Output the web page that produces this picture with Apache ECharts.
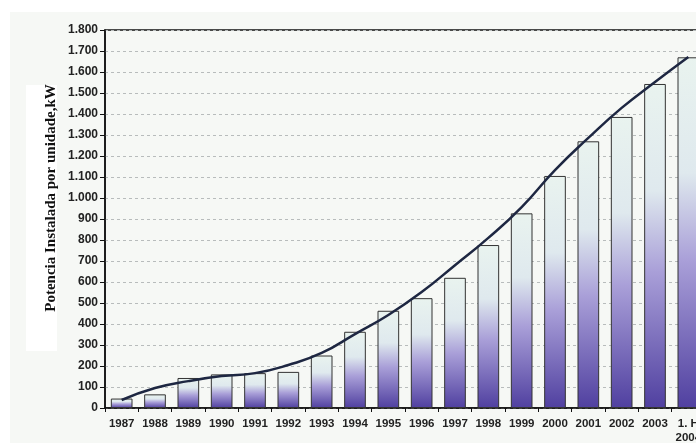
<!DOCTYPE html>
<html>
<head>
<meta charset="utf-8">
<script src="https://cdn.jsdelivr.net/npm/echarts@6/dist/echarts.min.js"></script>
<style>
  html, body { margin: 0; padding: 0; background: #ffffff; }
  #chart { width: 696px; height: 443px; }
</style>
</head>
<body>
<div id="chart"></div>
<script>
// Installed power per unit (kW), by year
const years = ['1987', '1988', '1989', '1990', '1991', '1992', '1993', '1994', '1995',
               '1996', '1997', '1998', '1999', '2000', '2001', '2002', '2003', '1. H\n2004'];
const powerKW = [45, 65, 143, 160, 166, 172, 250, 363, 463,
                 523, 620, 776, 927, 1105, 1270, 1386, 1543, 1670];
// Smoothed trend curve values at each year
const trendKW = [38, 95, 128, 152, 166, 205, 262, 352, 443,
                 552, 680, 810, 957, 1133, 1286, 1429, 1552, 1671];
const yTicks = { min: 0, max: 1800, step: 100 };

const fmt = v => {
  const s = String(v);
  return s.length > 3 ? s.slice(0, s.length - 3) + '.' + s.slice(-3) : s;
};

const chart = echarts.init(document.getElementById('chart'), null, { renderer: 'canvas' });
chart.setOption({
  backgroundColor: '#ffffff',
  animation: false,
  graphic: [
    { type: 'rect', shape: { x: 10, y: 12, width: 700, height: 440 }, style: { fill: '#f6f8f5' }, z: -10 },
    { type: 'rect', shape: { x: 26, y: 85, width: 31, height: 266 }, style: { fill: '#ffffff' }, z: -9 },
    {
      type: 'text', x: 51, y: 198, rotation: Math.PI / 2,
      style: {
        text: 'Potencia Instalada por unidade,kW',
        font: 'bold 15px "Liberation Serif", "Times New Roman", serif',
        fill: '#111', align: 'center', verticalAlign: 'middle'
      }
    }
  ],
  grid: {
    left: 105, top: 30, width: 600, bottom: 35,
    containLabel: false,
    outerBoundsMode: 'none',
    show: true, borderColor: '#111', borderWidth: 1.5, backgroundColor: 'transparent'
  },
  xAxis: {
    type: 'category',
    data: years,
    axisLine: { lineStyle: { color: '#111', width: 1.5 } },
    axisTick: { show: true, alignWithLabel: false, length: 4, lineStyle: { color: '#111' } },
    axisLabel: {
      color: '#222', fontSize: 11.5, fontWeight: 'bold',
      fontFamily: '"Liberation Sans", Arial, sans-serif',
      margin: 9, interval: 0, lineHeight: 14
    }
  },
  yAxis: {
    type: 'value',
    min: yTicks.min, max: yTicks.max, interval: yTicks.step,
    axisLine: { show: true, lineStyle: { color: '#111', width: 1.5 } },
    axisTick: { show: true, length: 5, lineStyle: { color: '#111' } },
    axisLabel: {
      color: '#222', fontSize: 12, fontWeight: 'bold',
      fontFamily: '"Liberation Sans", Arial, sans-serif',
      margin: 7, formatter: fmt
    },
    splitLine: { show: true, lineStyle: { color: '#b8bcbc', type: [3, 3], width: 1 } }
  },
  series: [
    {
      type: 'bar',
      data: powerKW,
      barCategoryGap: '35%',
      itemStyle: {
        borderColor: '#333',
        borderWidth: 1,
        color: new echarts.graphic.LinearGradient(0, 0, 0, 1, [
          { offset: 0, color: '#e9f3ef' },
          { offset: 0.33, color: '#dfe9ee' },
          { offset: 0.58, color: '#a99fd8' },
          { offset: 1, color: '#5040a0' }
        ])
      },
      z: 2
    },
    {
      type: 'line',
      data: trendKW,
      smooth: true,
      showSymbol: false,
      lineStyle: { color: '#1e2742', width: 2.5 },
      z: 3
    }
  ]
});
</script>
</body>
</html>
